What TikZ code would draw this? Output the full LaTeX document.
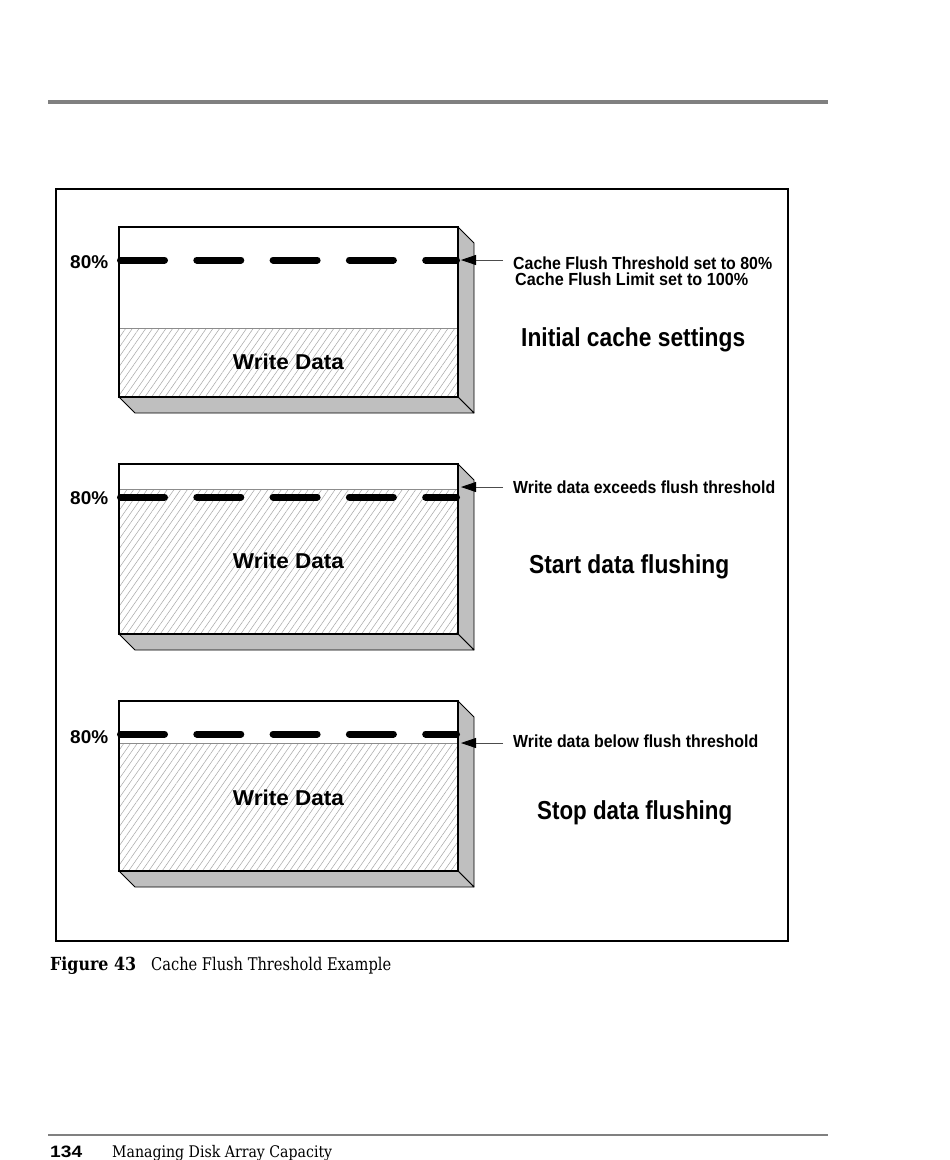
\documentclass[tikz,border=0pt]{standalone}
\usepackage{fontspec}
\setmainfont{Liberation Sans}
\newfontfamily\capserif{DejaVu Serif}
\usetikzlibrary{patterns.meta,arrows.meta}
\newcommand\fitw[2]{\resizebox{#1pt}{\height}{#2}}
\begin{document}
\begin{tikzpicture}[x=1pt,y=-1pt,
  frontbox/.style={draw=black,line width=2.5pt},
  sideface/.style={fill=black!25,draw=black,line width=0.8pt,line join=round},
  hatchfill/.style={pattern={Lines[angle=55,distance=5.5pt,line width=0.5pt]},pattern color=black!35,draw=black!45,line width=0.7pt},
  threshold/.style={line width=7pt,line cap=round,dash pattern=on 44pt off 32.3pt},
  pointer/.style={draw=black!70,line width=0.8pt,-{Triangle[length=15pt,width=10pt,black]}},
  txt/.style={inner sep=0pt,anchor=base west},
  small/.style={txt,font=\bfseries\fontsize{17.5}{17.5}\selectfont},
  big/.style={txt,font=\bfseries\fontsize{26}{26}\selectfont},
  pct/.style={txt,font=\bfseries\fontsize{18.5}{18.5}\selectfont},
  wdata/.style={inner sep=0pt,anchor=base,font=\bfseries\fontsize{21.5}{21.5}\selectfont}]
\useasboundingbox (0,0) rectangle (950,1160);
\fill[white] (0,0) rectangle (950,1160);
% page rules
\draw[black!50,line width=4pt] (48,101.5) -- (828,101.5);
\draw[black!50,line width=1.5pt] (48,1135) -- (828,1135);
% frame
\draw[line width=2pt] (56,189) rectangle (788,941);
% boxes
\foreach \top/\h/\nm in {227/101/a, 464/25/b, 701/42/c}{
  \begin{scope}[shift={(0,\top)}]
    \draw[sideface] (458,0) -- (474,16) -- (474,186) -- (458,170) -- cycle;
    \draw[sideface] (119,170) -- (135,186) -- (474,186) -- (458,170) -- cycle;
    \fill[white] (119,0) rectangle (458,170);
    \draw[hatchfill] (119,\h) rectangle (458,170);
    \draw[frontbox] (119,0) rectangle (458,170);
    \coordinate (dl\nm) at (120.5,33);
    \coordinate (dr\nm) at (456.5,33);
    \draw[threshold] (dl\nm) -- (dr\nm);
  \end{scope}
}
% Write Data labels
\node[wdata] (w1) at (288.5,369) {\fitw{111}{Write Data}};
\node[wdata] (w2) at (288.5,568) {\fitw{111}{Write Data}};
\node[wdata] (w3) at (288.5,805) {\fitw{111}{Write Data}};
% 80% labels
\node[pct] (p1) at (70,268.5) {\fitw{38}{80\%}};
\node[pct] (p2) at (70,504.5) {\fitw{38}{80\%}};
\node[pct] (p3) at (70,743) {\fitw{38}{80\%}};
% pointers
\coordinate (s1) at (503,260); \coordinate (t1) at (461,260);
\coordinate (s2) at (503,487); \coordinate (t2) at (461,487);
\coordinate (s3) at (503,743); \coordinate (t3) at (461,743);
\draw[pointer] (s1) -- (t1);
\draw[pointer] (s2) -- (t2);
\draw[pointer] (s3) -- (t3);
% right labels
\node[small] (l1) at (513,269.5) {\fitw{259}{Cache Flush Threshold set to 80\%}};
\node[small] (l2) at (515,285.5) {\fitw{233}{Cache Flush Limit set to 100\%}};
\node[big] (h1) at (521,346) {\fitw{224}{Initial cache settings}};
\node[small] (l3) at (513,493) {\fitw{262}{Write data exceeds flush threshold}};
\node[big] (h2) at (529,573) {\fitw{200}{Start data flushing}};
\node[small] (l4) at (513,747) {\fitw{245}{Write data below flush threshold}};
\node[big] (h3) at (537,819) {\fitw{195}{Stop data flushing}};
% caption
\node[txt,font=\capserif\bfseries\fontsize{18}{18}\selectfont] (cap1) at (50,970) {\fitw{86}{Figure 43}};
\node[txt,font=\capserif\fontsize{17.5}{17.5}\selectfont] (cap2) at (151,970) {\fitw{240}{Cache Flush Threshold Example}};
% footer
\node[txt,font=\bfseries\fontsize{16.5}{16.5}\selectfont] (pg) at (50,1157) {\fitw{32}{134}};
\node[txt,font=\capserif\fontsize{16}{16}\selectfont] (ft) at (112,1157) {\fitw{220}{Managing Disk Array Capacity}};
\end{tikzpicture}
\end{document}
